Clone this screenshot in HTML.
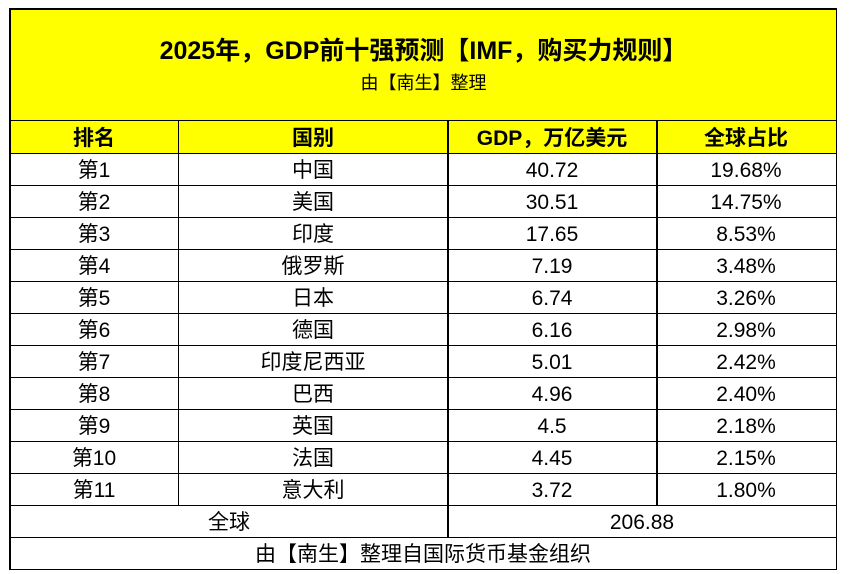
<!DOCTYPE html>
<html><head><meta charset="utf-8"><style>
body{margin:0;width:856px;height:574px;background:#fff;position:relative;overflow:hidden;font-family:"Liberation Sans","Noto Sans CJK SC",sans-serif;}
.c{position:absolute;box-sizing:border-box;display:flex;align-items:center;justify-content:center;color:#000;font-size:21px;line-height:1;padding-top:2px;}
.l{position:absolute;background:#000;}
</style></head><body>
<div style="position:absolute;left:10px;top:8px;width:827px;height:145px;background:#ffff00"></div>
<div class="c" style="left:10px;top:30px;width:827px;height:40px;font-size:25px;font-weight:bold">2025年，GDP前十强预测【IMF，购买力规则】</div>
<div class="c" style="left:10px;top:69px;width:827px;height:26px;font-size:18px">由【南生】整理</div>
<!-- lines -->
<div class="l" style="left:9px;top:8px;width:828px;height:1.5px"></div>
<div class="l" style="left:9px;top:8px;width:1.5px;height:562px"></div>
<div class="l" style="left:835.5px;top:8px;width:1.5px;height:562px"></div>
<div class="l" style="left:9px;top:119.5px;width:828px;height:1.5px"></div>
<div class="l" style="left:9px;top:152.5px;width:828px;height:1.5px"></div>
<div class="l" style="left:9px;top:184.5px;width:828px;height:1.5px"></div>
<div class="l" style="left:9px;top:216.5px;width:828px;height:1.5px"></div>
<div class="l" style="left:9px;top:248.5px;width:828px;height:1.5px"></div>
<div class="l" style="left:9px;top:280.5px;width:828px;height:1.5px"></div>
<div class="l" style="left:9px;top:312.5px;width:828px;height:1.5px"></div>
<div class="l" style="left:9px;top:344.5px;width:828px;height:1.5px"></div>
<div class="l" style="left:9px;top:376.5px;width:828px;height:1.5px"></div>
<div class="l" style="left:9px;top:408.5px;width:828px;height:1.5px"></div>
<div class="l" style="left:9px;top:440.5px;width:828px;height:1.5px"></div>
<div class="l" style="left:9px;top:472.5px;width:828px;height:1.5px"></div>
<div class="l" style="left:9px;top:504.5px;width:828px;height:1.5px"></div>
<div class="l" style="left:9px;top:536.5px;width:828px;height:1.5px"></div>
<div class="l" style="left:9px;top:568.5px;width:828px;height:1.5px"></div>
<div class="l" style="left:177.5px;top:120px;width:1.5px;height:386px"></div>
<div class="l" style="left:447px;top:120px;width:1.5px;height:418px"></div>
<div class="l" style="left:656px;top:120px;width:1.5px;height:386px"></div>
<!-- header -->
<div class="c" style="left:10px;top:121px;width:168px;height:32px;font-weight:bold">排名</div>
<div class="c" style="left:178px;top:121px;width:270px;height:32px;font-weight:bold">国别</div>
<div class="c" style="left:448px;top:121px;width:208px;height:32px;font-weight:bold">GDP，万亿美元</div>
<div class="c" style="left:656px;top:121px;width:180px;height:32px;font-weight:bold">全球占比</div>
<div class="c" style="left:10px;top:153px;width:168px;height:32px">第1</div><div class="c" style="left:178px;top:153px;width:270px;height:32px">中国</div><div class="c" style="left:448px;top:153px;width:208px;height:32px">40.72</div><div class="c" style="left:656px;top:153px;width:180px;height:32px">19.68%</div>
<div class="c" style="left:10px;top:185px;width:168px;height:32px">第2</div><div class="c" style="left:178px;top:185px;width:270px;height:32px">美国</div><div class="c" style="left:448px;top:185px;width:208px;height:32px">30.51</div><div class="c" style="left:656px;top:185px;width:180px;height:32px">14.75%</div>
<div class="c" style="left:10px;top:217px;width:168px;height:32px">第3</div><div class="c" style="left:178px;top:217px;width:270px;height:32px">印度</div><div class="c" style="left:448px;top:217px;width:208px;height:32px">17.65</div><div class="c" style="left:656px;top:217px;width:180px;height:32px">8.53%</div>
<div class="c" style="left:10px;top:249px;width:168px;height:32px">第4</div><div class="c" style="left:178px;top:249px;width:270px;height:32px">俄罗斯</div><div class="c" style="left:448px;top:249px;width:208px;height:32px">7.19</div><div class="c" style="left:656px;top:249px;width:180px;height:32px">3.48%</div>
<div class="c" style="left:10px;top:281px;width:168px;height:32px">第5</div><div class="c" style="left:178px;top:281px;width:270px;height:32px">日本</div><div class="c" style="left:448px;top:281px;width:208px;height:32px">6.74</div><div class="c" style="left:656px;top:281px;width:180px;height:32px">3.26%</div>
<div class="c" style="left:10px;top:313px;width:168px;height:32px">第6</div><div class="c" style="left:178px;top:313px;width:270px;height:32px">德国</div><div class="c" style="left:448px;top:313px;width:208px;height:32px">6.16</div><div class="c" style="left:656px;top:313px;width:180px;height:32px">2.98%</div>
<div class="c" style="left:10px;top:345px;width:168px;height:32px">第7</div><div class="c" style="left:178px;top:345px;width:270px;height:32px">印度尼西亚</div><div class="c" style="left:448px;top:345px;width:208px;height:32px">5.01</div><div class="c" style="left:656px;top:345px;width:180px;height:32px">2.42%</div>
<div class="c" style="left:10px;top:377px;width:168px;height:32px">第8</div><div class="c" style="left:178px;top:377px;width:270px;height:32px">巴西</div><div class="c" style="left:448px;top:377px;width:208px;height:32px">4.96</div><div class="c" style="left:656px;top:377px;width:180px;height:32px">2.40%</div>
<div class="c" style="left:10px;top:409px;width:168px;height:32px">第9</div><div class="c" style="left:178px;top:409px;width:270px;height:32px">英国</div><div class="c" style="left:448px;top:409px;width:208px;height:32px">4.5</div><div class="c" style="left:656px;top:409px;width:180px;height:32px">2.18%</div>
<div class="c" style="left:10px;top:441px;width:168px;height:32px">第10</div><div class="c" style="left:178px;top:441px;width:270px;height:32px">法国</div><div class="c" style="left:448px;top:441px;width:208px;height:32px">4.45</div><div class="c" style="left:656px;top:441px;width:180px;height:32px">2.15%</div>
<div class="c" style="left:10px;top:473px;width:168px;height:32px">第11</div><div class="c" style="left:178px;top:473px;width:270px;height:32px">意大利</div><div class="c" style="left:448px;top:473px;width:208px;height:32px">3.72</div><div class="c" style="left:656px;top:473px;width:180px;height:32px">1.80%</div>
<div class="c" style="left:10px;top:505px;width:438px;height:32px">全球</div>
<div class="c" style="left:448px;top:505px;width:388px;height:32px">206.88</div>
<div class="c" style="left:10px;top:537px;width:826px;height:32px">由【南生】整理自国际货币基金组织</div>
</body></html>
